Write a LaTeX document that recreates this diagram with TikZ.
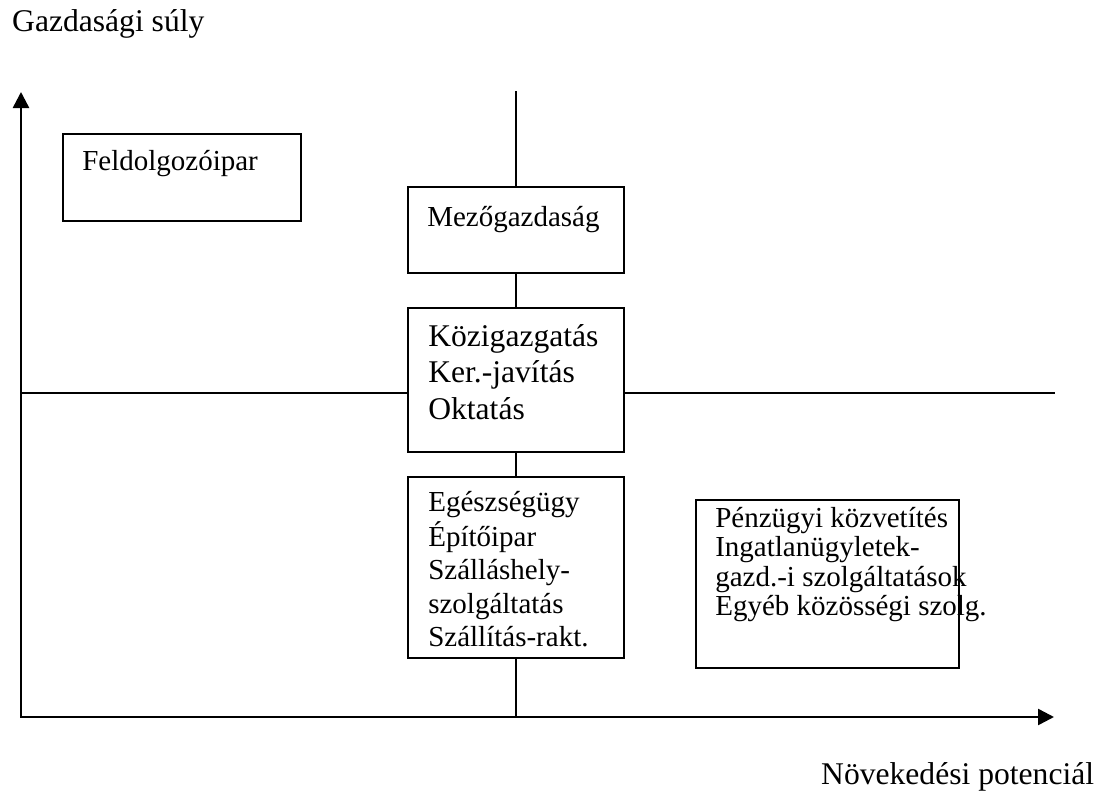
\documentclass[tikz,border=0pt]{standalone}
\usepackage{fontspec}
\setmainfont{Liberation Serif}
\usetikzlibrary{arrows.meta,positioning}

\tikzset{
  box/.style={draw, line width=1.8pt, fill=white, inner sep=0pt},
  axis/.style={line width=2.5pt, {Triangle[length=16pt,width=16pt]}-{Triangle[length=16pt,width=16pt]}},
  thin line/.style={line width=1.3pt},
  txt/.style={anchor=base west, inner sep=0pt, font=\fontsize{29}{33.6}\selectfont},
  bigtxt/.style={txt, font=\fontsize{31.6}{36.5}\selectfont},
  tighttxt/.style={txt, font=\fontsize{29}{29.5}\selectfont},
}
\newcommand{\lines}[1]{\begin{tabular}[t]{@{}l@{}}#1\end{tabular}}

\begin{document}
\begin{tikzpicture}[x=1pt,y=-1pt]
  \useasboundingbox (0,0) rectangle (1104,803);
  % axes
  \coordinate (ytop) at (21,92);
  \coordinate (xend) at (1054,717);
  \coordinate (vtop) at (516,91);
  \coordinate (vbot) at (516,717);
  \coordinate (hleft) at (21,393);
  \coordinate (hright) at (1055,393);
  \draw[axis] (ytop) |- (xend);

  % boxes
  \node[box, minimum width=238pt, minimum height=87pt] (feld) at (182,177.5) {};
  \node[box, minimum width=216pt, minimum height=86pt] (mezo) at (516,230) {};
  \node[box, minimum width=216pt, minimum height=144pt] (kozig) at (516,380) {};
  \node[box, minimum width=216pt, minimum height=181pt] (egesz) at (516,567.5) {};
  \node[box, minimum width=263pt, minimum height=168pt] (penz) at (827.5,584) {};

  % quadrant lines
  \draw[thin line] (vtop) -- (mezo.north);
  \draw[thin line] (mezo.south) -- (kozig.north);
  \draw[thin line] (kozig.south) -- (egesz.north);
  \draw[thin line] (egesz.south) -- (vbot);
  \draw[thin line] (hleft) -- (hleft -| kozig.west);
  \draw[thin line] (hright -| kozig.east) -- (hright);

  % texts
  \node[txt] (feldtxt) at ([xshift=20pt,yshift=-37pt]feld.north west) {Feldolgozóipar};
  \node[txt] (mezotxt) at ([xshift=20pt,yshift=-40pt]mezo.north west) {Mezőgazdaság};
  \node[bigtxt] (kozigtxt) at ([xshift=21pt,yshift=-39pt]kozig.north west)
    {\lines{Közigazgatás\\Ker.-javítás\\Oktatás}};
  \node[txt] (egesztxt) at ([xshift=21pt,yshift=-35pt]egesz.north west)
    {\lines{Egészségügy\\Építőipar\\Szálláshely-\\szolgáltatás\\Szállítás-rakt.}};
  \node[tighttxt] (penztxt) at ([xshift=20pt,yshift=-28pt]penz.north west)
    {\lines{Pénzügyi közvetítés\\Ingatlanügyletek-\\gazd.-i szolgáltatások\\Egyéb közösségi szolg.}};

  % axis labels
  \node[bigtxt] (ylabel) at (12,31) {Gazdasági súly};
  \node[bigtxt] (xlabel) at (821,784) {Növekedési potenciál};
\end{tikzpicture}
\end{document}
